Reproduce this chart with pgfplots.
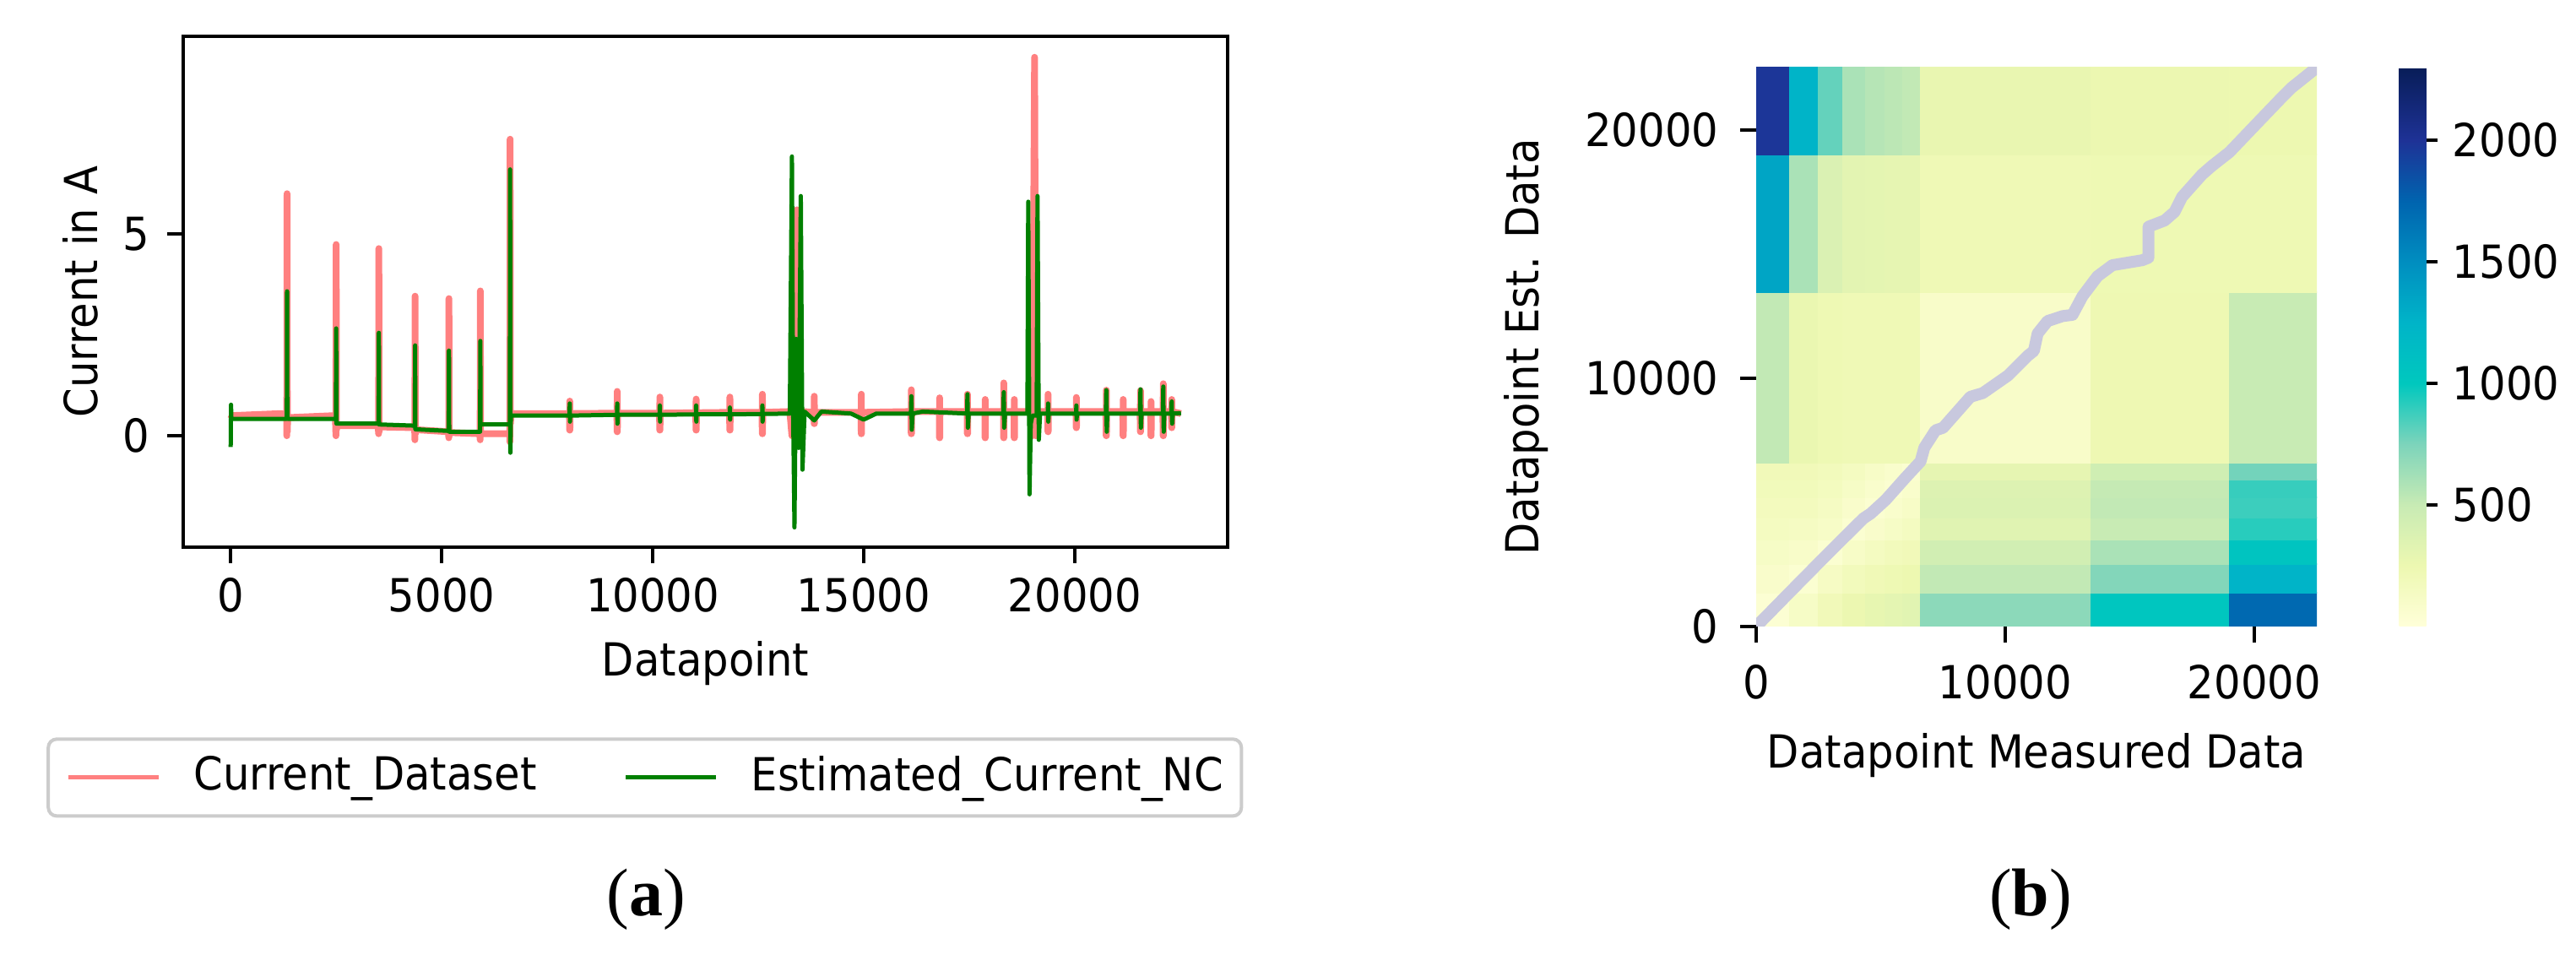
\documentclass[border=0pt]{standalone}
\usepackage{fontspec}
\setmainfont{DejaVu Sans}[FakeStretch=0.92]
\newfontfamily\capfont{Liberation Serif}
\usepackage{pgfplots}
\pgfplotsset{compat=1.18}

\definecolor{curred}{RGB}{255,128,128}
\definecolor{estgreen}{RGB}{0,128,0}
\definecolor{pathgray}{RGB}{200,200,222}
\newcommand\chartfont{\fontsize{10.8}{13}\selectfont}

\pgfplotsset{
  tick label style={font=\chartfont},
  label style={font=\chartfont},
  /pgf/number format/assume math mode=true,
  /pgf/number format/1000 sep={},
  scaled ticks=false,
}

\begin{document}
\begin{tikzpicture}
\path[use as bounding box] (0,0) rectangle (610.2pt,226.2pt);

% (a) current over datapoints
\begin{axis}[
  at={(43.4pt,96.6pt)}, anchor=south west,
  scale only axis, width=247.4pt, height=121pt,
  xmin=-1125, xmax=23625, ymin=-2.76, ymax=9.9,
  xtick={0,5000,10000,15000,20000}, ytick={0,5},
  tick pos=left, tick align=outside, major tick length=3.8pt,
  axis line style={line width=0.8pt},
  every tick/.style={black, line width=0.8pt},
  yticklabel style={xshift=-0.6pt},
  xlabel={Datapoint}, ylabel={Current in A},
  xlabel style={at={(axis description cs:0.5,-0.227)}, anchor=center, inner sep=0pt},
  ylabel style={at={(axis description cs:-0.0986,0.5)}, anchor=center, inner sep=0pt},
  legend columns=2,
  legend style={at={(0.442,-0.451)}, anchor=center, draw=black!20, line width=0.8pt,
    rounded corners=2pt, font=\chartfont, inner xsep=4.3pt, inner ysep=4pt,
    nodes={inner sep=0pt, text depth=0.2em},
    /tikz/every odd column/.append style={column sep=7.8pt},
    /tikz/every even column/.append style={column sep=20.6pt}},
  legend image code/.code={\draw[#1] (0pt,0pt) -- (21.4pt,0pt);},
]
\addplot[no marks, curred, line width=1.6pt, line join=round,
  legend image post style={line width=1pt}] coordinates {
(0,0.42) (40,0.50) (1200,0.55) (1325,0.50) (1330,0.00) (1336,6.00) (1342,0.10) (1350,0.45)
(2480,0.50) (2494,0.00) (2500,4.74) (2506,0.15) (2520,0.25)
(3495,0.25) (3505,0.05) (3511,4.64) (3517,0.10) (3530,0.22)
(4360,0.20) (4365,-0.10) (4370,3.46) (4376,0.05) (4390,0.15)
(5165,0.10) (5168,-0.05) (5172,3.40) (5176,0.00) (5190,0.08)
(5908,0.05) (5912,-0.10) (5916,3.59) (5920,0.00) (5935,0.05)
(6612,0.05) (6616,-0.15) (6622,7.35) (6628,0.30) (6645,0.55)
(8027,0.55) (8032,0.14) (8035,0.86) (8038,0.14) (8043,0.55)
(9152,0.56) (9157,0.10) (9160,1.10) (9163,0.10) (9168,0.56)
(10162,0.56) (10167,0.14) (10170,0.96) (10173,0.14) (10178,0.56)
(11022,0.57) (11027,0.14) (11030,0.91) (11033,0.14) (11038,0.57)
(11822,0.58) (11827,0.14) (11830,0.96) (11833,0.14) (11838,0.58)
(12592,0.58) (12597,0.05) (12600,1.03) (12603,0.05) (12608,0.58)
(13250,0.60) (13300,0.00) (13420,5.60) (13480,0.00) (13560,0.60)
(13822,0.58) (13827,0.30) (13830,0.98) (13833,0.30) (13838,0.58)
(14937,0.58) (14942,0.05) (14945,1.03) (14948,0.05) (14953,0.58)
(16122,0.60) (16127,0.05) (16130,1.14) (16133,0.05) (16138,0.60)
(16792,0.60) (16797,-0.05) (16800,0.94) (16803,-0.05) (16808,0.60)
(17452,0.60) (17457,0.05) (17460,1.03) (17463,0.05) (17468,0.60)
(17872,0.60) (17877,-0.05) (17880,0.90) (17883,-0.05) (17888,0.60)
(18312,0.60) (18317,-0.05) (18320,1.31) (18323,-0.05) (18328,0.60)
(18562,0.60) (18567,-0.05) (18570,0.90) (18573,-0.05) (18578,0.60)
(18950,0.60) (18980,3.00) (19000,0.00) (19050,9.38) (19080,0.00) (19120,0.60)
(19362,0.60) (19367,0.10) (19370,1.03) (19373,0.10) (19378,0.60)
(20032,0.60) (20037,0.20) (20040,0.95) (20043,0.20) (20048,0.60)
(20742,0.60) (20747,0.00) (20750,1.13) (20753,0.00) (20758,0.60)
(21142,0.60) (21147,0.00) (21150,0.90) (21153,0.00) (21158,0.60)
(21552,0.60) (21557,0.10) (21560,1.12) (21563,0.10) (21568,0.60)
(21802,0.60) (21807,0.00) (21810,0.85) (21813,0.00) (21818,0.60)
(22092,0.60) (22097,0.00) (22100,1.29) (22103,0.00) (22108,0.60)
(22292,0.60) (22297,0.20) (22300,0.90) (22303,0.20) (22308,0.60)
(22520,0.55)
};
\addlegendentry{Current\_Dataset}
\addplot[no marks, estgreen, line width=1pt, line join=round] coordinates {
(0,-0.28) (8,0.77) (16,0.42) (1330,0.42) (1336,3.58) (1342,0.42)
(2494,0.42) (2500,2.66) (2506,0.30) (3505,0.30) (3511,2.55) (3517,0.28)
(4364,0.25) (4370,2.24) (4376,0.16) (5166,0.12) (5172,2.11) (5178,0.10)
(5910,0.10) (5916,2.35) (5922,0.28) (6616,0.28) (6622,6.60) (6628,-0.42) (6640,0.50)
(8030,0.50) (8035,0.80) (8040,0.35) (8046,0.50)
(9155,0.52) (9160,0.80) (9165,0.30) (9171,0.52)
(10165,0.52) (10170,0.75) (10175,0.35) (10181,0.52)
(11025,0.53) (11030,0.75) (11035,0.35) (11041,0.53)
(11825,0.53) (11830,0.70) (11835,0.40) (11841,0.53)
(12595,0.54) (12600,0.75) (12605,0.35) (12611,0.54)
(13250,0.55) (13300,6.92) (13330,0.50) (13360,-2.27) (13400,2.40) (13460,-0.30)
(13510,5.94) (13550,-0.84) (13600,0.60) (13830,0.38) (14000,0.60)
(14700,0.55) (15000,0.40) (15300,0.55)
(16120,0.55) (16130,0.98) (16140,0.15) (16160,0.55) (16400,0.60)
(17450,0.55) (17460,1.03) (17470,0.20) (17490,0.55)
(18310,0.55) (18320,1.08) (18330,0.20) (18350,0.55)
(18880,0.55) (18900,5.80) (18930,-1.45) (18960,0.30) (19000,0.50)
(19100,0.50) (19120,5.94) (19150,-0.10) (19180,0.55)
(19365,0.55) (19370,0.80) (19375,0.35) (19385,0.55)
(20035,0.55) (20040,0.75) (20045,0.40) (20055,0.55)
(20740,0.55) (20750,1.13) (20760,0.10) (20775,0.55)
(21550,0.55) (21560,1.15) (21570,0.20) (21585,0.55)
(22090,0.55) (22100,1.22) (22110,0.10) (22125,0.55)
(22290,0.55) (22300,0.85) (22310,0.30) (22325,0.55)
(22520,0.56)
};
\addlegendentry{Estimated\_Current\_NC}
\end{axis}

% (b) cost matrix with warping path
\begin{axis}[
  at={(416pt,77.8pt)}, anchor=south west,
  scale only axis, width=132.8pt, height=132.4pt,
  xmin=0, xmax=22510, ymin=0, ymax=22510,
  xtick={0,10000,20000}, ytick={0,10000,20000},
  tick pos=left, tick align=outside, major tick length=3.8pt,
  axis line style={draw=none},
  every tick/.style={black, line width=0.8pt},
  xticklabel style={yshift=-1.8pt},
  yticklabel style={xshift=-1.6pt},
  xlabel={Datapoint Measured Data}, ylabel={Datapoint Est. Data},
  xlabel style={at={(axis description cs:0.5,-0.231)}, anchor=center, inner sep=0pt},
  ylabel style={at={(axis description cs:-0.4096,0.5)}, anchor=center, inner sep=0pt},
  colormap={dtw}{rgb255(0)=(255,255,217) rgb255(250)=(237,248,177)
    rgb255(500)=(200,235,180) rgb255(750)=(125,212,187) rgb255(1000)=(0,200,190)
    rgb255(1250)=(0,180,200) rgb255(1500)=(0,142,192) rgb255(1750)=(0,100,175)
    rgb255(2000)=(30,50,150) rgb255(2300)=(8,29,88)},
  point meta min=0, point meta max=2300,
  colorbar,
  colorbar style={
    at={(parent axis.north east)}, anchor=north west, xshift=11pt,
    width=6.4pt,
    ytick={500,1000,1500,2000},
    axis line style={draw=none},
    tick align=outside, major tick length=2.7pt,
    every tick/.style={black, line width=0.8pt},
    ytick pos=right, yticklabel pos=right,
  },
]
\addplot[surf, shader=flat corner, mesh/cols=11, point meta=explicit]
  table[x=x, y=y, meta=c] {
x y c
0 0 40
1350 0 120
2500 0 200
3500 0 260
4400 0 290
5200 0 310
5900 0 330
6600 0 700
13450 0 1020
19000 0 1720
22510 0 1720
0 1350 90
1350 1350 50
2500 1350 130
3500 1350 180
4400 1350 210
5200 1350 230
5900 1350 250
6600 1350 520
13450 1350 730
19000 1350 1250
22510 1350 1250
0 2500 120
1350 2500 100
2500 2500 50
3500 2500 110
4400 2500 150
5200 2500 180
5900 2500 200
6600 2500 440
13450 2500 600
19000 2500 1050
22510 2500 1050
0 3500 150
1350 3500 140
2500 3500 110
3500 3500 50
4400 3500 90
5200 3500 120
5900 3500 150
6600 3500 340
13450 3500 500
19000 3500 920
22510 3500 920
0 4400 170
1350 4400 170
2500 4400 140
3500 4400 90
4400 4400 50
5200 4400 80
5900 4400 110
6600 4400 370
13450 4400 520
19000 4400 880
22510 4400 880
0 5200 190
1350 5200 190
2500 5200 160
3500 5200 120
4400 5200 80
5200 5200 50
5900 5200 80
6600 5200 360
13450 5200 510
19000 5200 890
22510 5200 890
0 5900 200
1350 5900 200
2500 5900 180
3500 5900 150
4400 5900 110
5200 5900 80
5900 5900 50
6600 5900 300
13450 5900 450
19000 5900 770
22510 5900 770
0 6600 520
1350 6600 270
2500 6600 230
3500 6600 220
4400 6600 220
5200 6600 220
5900 6600 220
6600 6600 100
13450 6600 240
19000 6600 500
22510 6600 500
0 13450 1350
1350 13450 600
2500 13450 380
3500 13450 320
4400 13450 310
5200 13450 300
5900 13450 300
6600 13450 220
13450 13450 230
19000 13450 230
22510 13450 230
0 19000 1980
1350 19000 1250
2500 19000 800
3500 19000 600
4400 19000 560
5200 19000 540
5900 19000 520
6600 19000 280
13450 19000 260
19000 19000 250
22510 19000 250
0 22510 1980
1350 22510 1250
2500 22510 800
3500 22510 600
4400 22510 560
5200 22510 540
5900 22510 520
6600 22510 280
13450 22510 260
19000 22510 250
22510 22510 250
};
\addplot[no marks, pathgray, line width=2.8pt, line join=round, line cap=round] coordinates {
(0,0) (1300,1330) (2600,2650) (4300,4350) (4600,4550) (5200,5100) (6000,6000)
(6600,6650) (6750,7200) (7200,7900) (7500,8000) (8600,9250) (9100,9400)
(10100,10100) (10900,10900) (11150,11100) (11300,11800) (11700,12300)
(12300,12500) (12700,12550) (13100,13300) (13700,14100) (14300,14550)
(15500,14750) (15750,14850) (15750,16100) (16400,16350) (16800,16700)
(17100,17300) (17900,18200) (18300,18550) (19000,19100) (20000,20150)
(21100,21300) (21500,21700) (22510,22510)
};
\end{axis}

\node[font=\capfont\fontsize{16}{19}\selectfont] at (153pt,13.2pt) {(\textbf{a})};
\node[font=\capfont\fontsize{16}{19}\selectfont] at (481pt,13.2pt) {(\textbf{b})};
\end{tikzpicture}
\end{document}
